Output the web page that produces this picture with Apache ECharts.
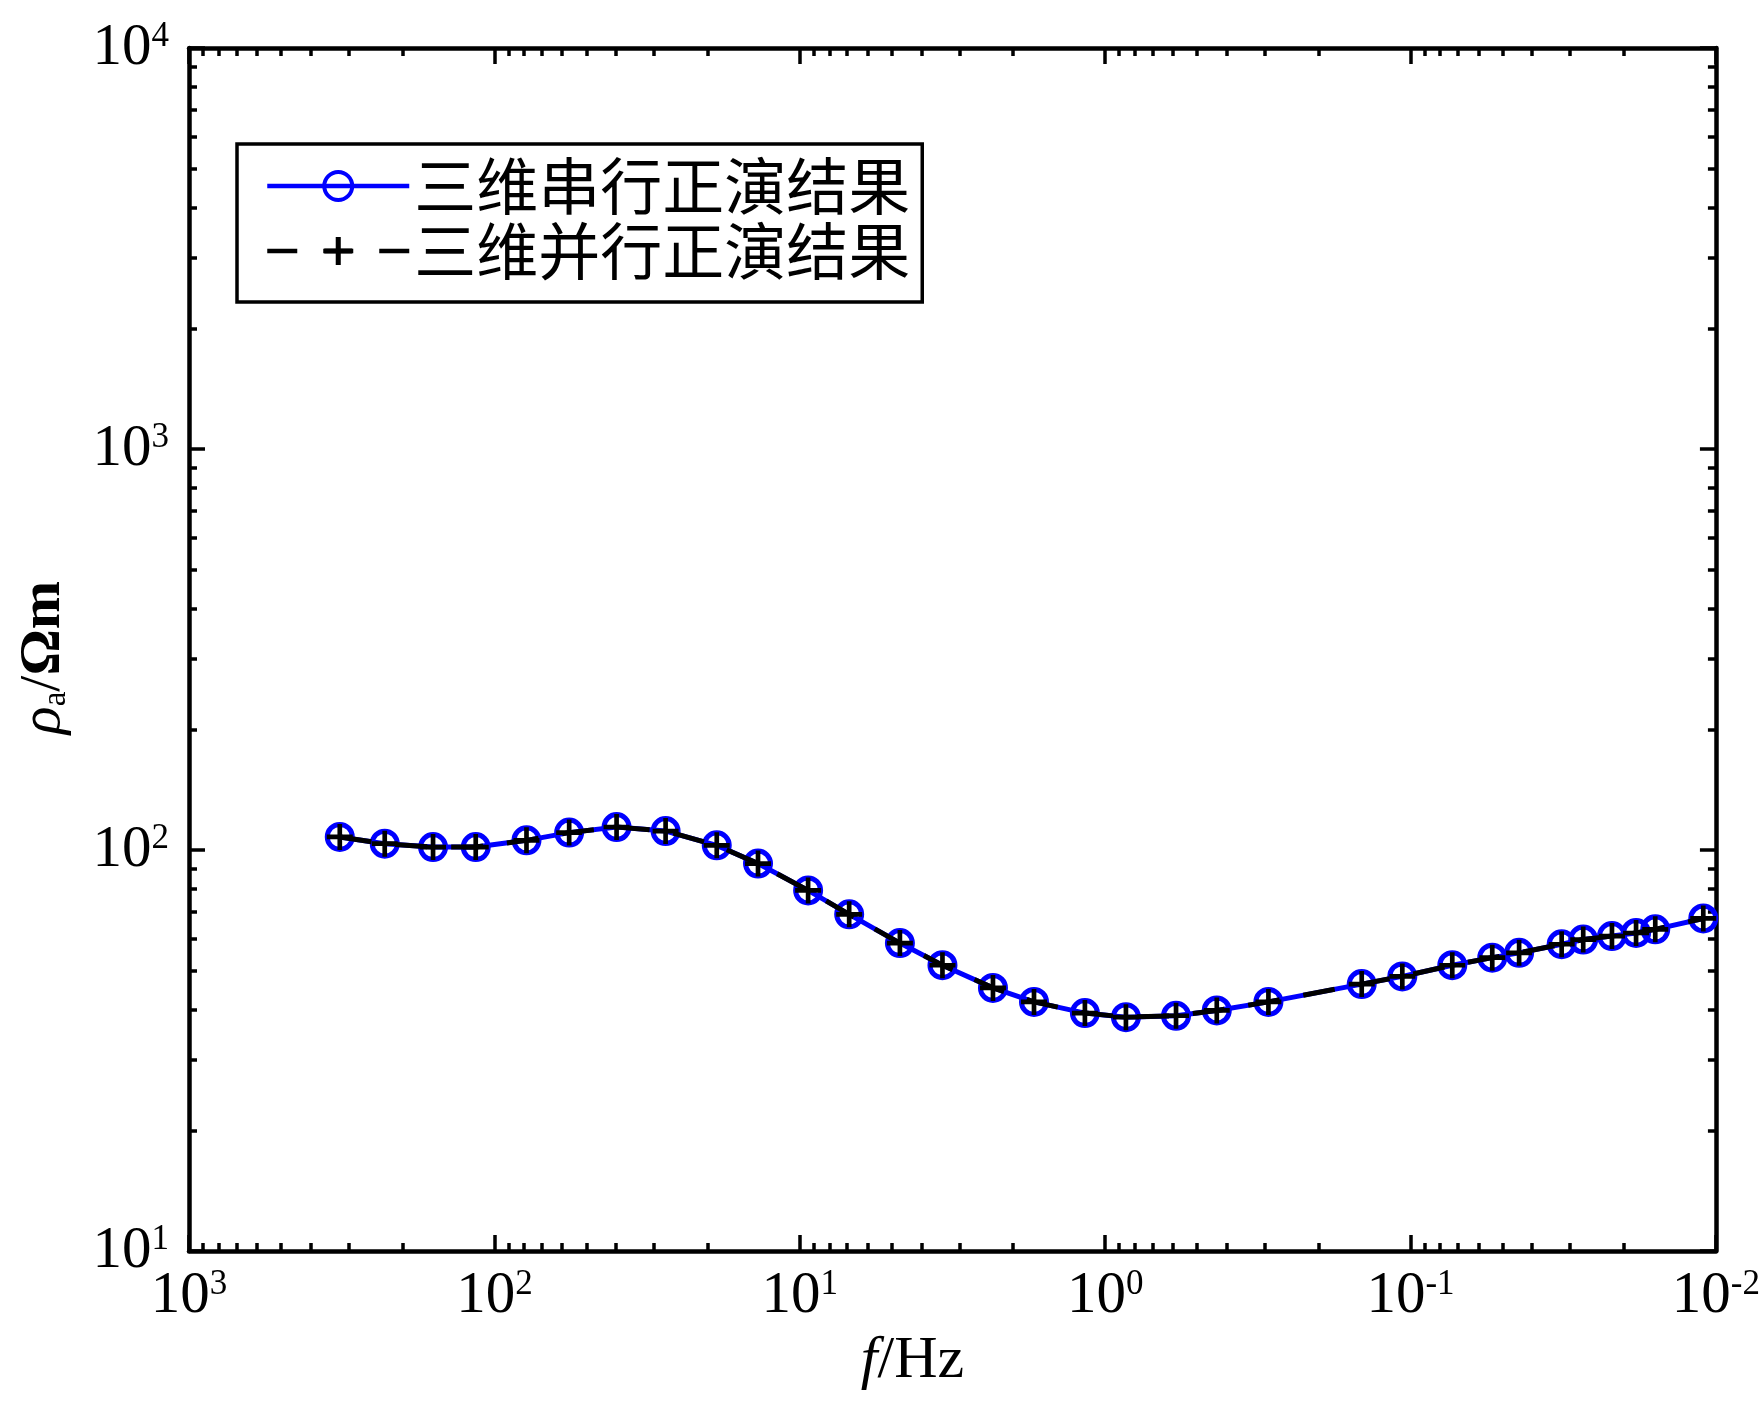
<!DOCTYPE html>
<html><head><meta charset="utf-8">
<script src="https://cdn.jsdelivr.net/npm/echarts@6/dist/echarts.min.js"></script>
<style>html,body{margin:0;padding:0;background:#fff}#c{width:1763px;height:1401px}</style>
</head><body><div id="c"></div>
<script>
// ---- data ----
const seriesNames = ['三维串行正演结果', '三维并行正演结果'];
const freqHz = [320.8, 228.6, 158.8, 115.1, 78.5, 56.9, 39.8, 27.5, 18.7, 13.7, 9.39, 6.89, 4.70, 3.41, 2.33, 1.71, 1.165, 0.855, 0.586, 0.431, 0.292, 0.1445, 0.1064, 0.0730, 0.0540, 0.0441, 0.0320, 0.0272, 0.0219, 0.01826, 0.0158, 0.0110];
const rhoSerial = [107.8, 103.7, 101.7, 101.7, 105.7, 110.5, 114.1, 111.5, 102.7, 92.5, 79.3, 69.1, 58.6, 51.6, 45.3, 41.8, 39.2, 38.3, 38.6, 39.8, 41.8, 46.3, 48.4, 51.6, 53.9, 55.4, 58.2, 59.8, 61.0, 62.1, 63.4, 67.5];
const rhoParallel = [107.8, 103.7, 101.7, 101.7, 105.7, 110.5, 114.1, 111.5, 102.7, 92.5, 79.3, 69.1, 58.6, 51.6, 45.3, 41.8, 39.2, 38.3, 38.6, 39.8, 41.8, 46.3, 48.4, 51.6, 53.9, 55.4, 58.2, 59.8, 61.0, 62.1, 63.4, 67.5];
const xMajorTicks = [1000, 100, 10, 1, 0.1, 0.01];
const xTickExponents = ['3', '2', '1', '0', '-1', '-2'];
const yMajorTicks = [10, 100, 1000, 10000];
const yTickExponents = ['1', '2', '3', '4'];
const minorMantissas = [2, 3, 4, 5, 6, 7, 8, 9];
const xDecades = [-2, -1, 0, 1, 2];
const yDecades = [1, 2, 3];

function minorValues(decades) {
  const out = [];
  decades.forEach(d => minorMantissas.forEach(m => out.push(m * Math.pow(10, d))));
  return out;
}
function expLabel(ticks, exps) {
  return function (v) {
    let best = 0, bd = 1e9;
    ticks.forEach((t, i) => { const dd = Math.abs(Math.log10(t) - Math.log10(v)); if (dd < bd) { bd = dd; best = i; } });
    return '{n|10}{e|' + exps[best] + '}';
  };
}
const serif = '"Liberation Serif", "Times New Roman", serif';
const labelRich = {
  n: { fontFamily: serif, fontSize: 59, lineHeight: 58, color: '#000' },
  e: { fontFamily: serif, fontSize: 35, lineHeight: 30, color: '#000', verticalAlign: 'top' }
};

function axis(kind, position, ticks, len, withLine, labelTicks, labelExps) {
  const isX = kind === 'x';
  const a = {
    type: 'log', logBase: 10,
    min: isX ? 0.01 : 10, max: isX ? 1000 : 10000,
    position: position,
    axisLine: { show: withLine, onZero: false, lineStyle: { color: '#000', width: 4.5 } },
    axisTick: { show: true, inside: true, length: len, customValues: ticks, lineStyle: { color: '#000', width: 3.5 } },
    axisLabel: { show: false },
    splitLine: { show: false },
    minorTick: { show: false },
    minorSplitLine: { show: false }
  };
  if (isX) a.inverse = true;
  if (labelTicks) {
    a.axisLabel = {
      show: true, customValues: labelTicks, margin: isX ? 16 : 20,
      showMinLabel: true, showMaxLabel: true,
      formatter: expLabel(labelTicks, labelExps), rich: labelRich
    };
  }
  return a;
}

const xAxes = [
  axis('x', 'bottom', xMajorTicks, 16, true, xMajorTicks, xTickExponents),
  axis('x', 'bottom', minorValues(xDecades), 8, false),
  axis('x', 'top', xMajorTicks, 16, true),
  axis('x', 'top', minorValues(xDecades), 8, false)
];
xAxes[0].name = '{i|f}{n|/Hz}';
xAxes[0].nameLocation = 'middle';
xAxes[0].nameGap = 80;
xAxes[0].nameTextStyle = {
  padding: [0, 80, 0, 0],
  rich: {
    i: { fontFamily: serif, fontStyle: 'italic', fontSize: 60, lineHeight: 60, color: '#000' },
    n: { fontFamily: serif, fontSize: 60, lineHeight: 60, color: '#000' }
  }
};
const yAxes = [
  axis('y', 'left', yMajorTicks, 16, true, yMajorTicks, yTickExponents),
  axis('y', 'left', minorValues(yDecades), 8, false),
  axis('y', 'right', yMajorTicks, 16, true),
  axis('y', 'right', minorValues(yDecades), 8, false)
];
yAxes[0].name = '{r|ρ}{s|a}{t|/}{b|Ωm}';
yAxes[0].nameLocation = 'middle';
yAxes[0].nameRotate = 90;
yAxes[0].nameGap = 116;
yAxes[0].nameTextStyle = {
  padding: [0, 16, 0, 0],
  rich: {
    r: { fontFamily: serif, fontStyle: 'italic', fontSize: 58, lineHeight: 58, color: '#000' },
    s: { fontFamily: serif, fontSize: 33, lineHeight: 40, color: '#000', verticalAlign: 'bottom' },
    t: { fontFamily: serif, fontSize: 58, lineHeight: 58, color: '#000' },
    b: { fontFamily: serif, fontWeight: 'bold', fontSize: 58, lineHeight: 58, color: '#000' }
  }
};

const plusPath = 'path://M41,0 H59 V41 H100 V59 H59 V100 H41 V59 H0 V41 H41 Z';

const option = {
  animation: false,
  backgroundColor: '#fff',
  grid: { left: 189, right: 47, top: 48, bottom: 150, containLabel: false },
  xAxis: xAxes,
  yAxis: yAxes,
  legend: {
    orient: 'vertical', left: 237, top: 144,
    backgroundColor: '#fff', borderColor: '#000', borderWidth: 3.5, borderRadius: 0,
    padding: [11, 12, 20, 28], itemWidth: 142, itemHeight: 35, itemGap: 3,
    selectedMode: false,
    textStyle: { fontFamily: '"Noto Sans CJK SC"', fontSize: 62, lineHeight: 61, color: '#000' },
    data: [
      { name: seriesNames[0], lineStyle: { width: 4.5 }, itemStyle: { borderWidth: 4 } },
      { name: seriesNames[1], lineStyle: { width: 4.5, type: [30, 26] }, itemStyle: { borderWidth: 0 } }
    ]
  },
  series: [
    {
      name: seriesNames[0], type: 'line', xAxisIndex: 0, yAxisIndex: 0,
      data: freqHz.map((f, i) => [f, rhoSerial[i]]),
      symbol: 'circle', symbolSize: 25,
      itemStyle: { color: 'rgba(255,255,255,0)', borderColor: '#0000ff', borderWidth: 5 },
      lineStyle: { color: '#0000ff', width: 5 },
      z: 2
    },
    {
      name: seriesNames[1], type: 'line', xAxisIndex: 0, yAxisIndex: 0,
      data: freqHz.map((f, i) => [f, rhoParallel[i]]),
      symbol: plusPath, symbolSize: 26,
      itemStyle: { color: '#000', borderWidth: 0 },
      lineStyle: { color: '#000', width: 5, type: [32, 24] },
      z: 3
    }
  ]
};
const chart = echarts.init(document.getElementById('c'));
chart.setOption(option);
</script>
</body></html>
